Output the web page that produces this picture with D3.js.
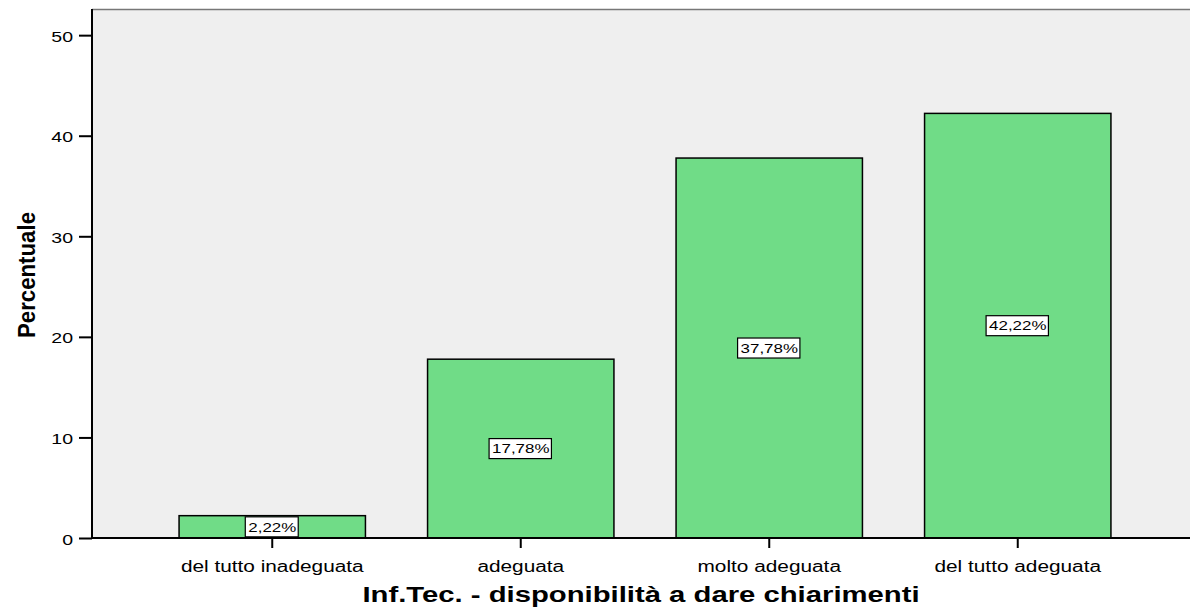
<!DOCTYPE html>
<html lang="it">
<head>
<meta charset="UTF-8">
<title>Inf.Tec. - disponibilità a dare chiarimenti</title>
<script src="https://d3js.org/d3.v7.min.js"></script>
<style>
  body { margin: 0; background: #fff; }
  svg text { font-family: "Liberation Sans", Arial, sans-serif; fill: #000; }
</style>
</head>
<body>
<div id="chart"></div>
<script>
// Data
const categories = ["del tutto inadeguata", "adeguata", "molto adeguata", "del tutto adeguata"];
const percentages = [2.22, 17.78, 37.78, 42.22];
const valueLabels = ["2,22%", "17,78%", "37,78%", "42,22%"];
const yTicks = [0, 10, 20, 30, 40, 50];

const width = 1190, height = 609;
const plot = { left: 92, top: 9, right: 1190, bottom: 538 };
// the original image is stretched horizontally, so the text is too
const stretchX = 1.3;

const svg = d3.select("#chart").append("svg")
  .attr("width", width)
  .attr("height", height);

// widen a text selection horizontally, keeping its anchor
function stretch(sel, k = stretchX) {
  sel.each(function () {
    const w = this.getComputedTextLength();
    d3.select(this)
      .attr("textLength", w * k)
      .attr("lengthAdjust", "spacingAndGlyphs");
  });
}

// Scales
const x = d3.scaleBand()
  .domain(categories)
  .range([148, 1142])
  .paddingInner(0.25)
  .paddingOuter(0.125);

const y = d3.scaleLinear()
  .domain([0, 52.6])
  .range([plot.bottom, plot.top]);

// Plot background
svg.append("rect")
  .attr("x", plot.left)
  .attr("y", plot.top)
  .attr("width", plot.right - plot.left)
  .attr("height", plot.bottom - plot.top)
  .attr("fill", "#efefef");

svg.append("line")
  .attr("x1", plot.left).attr("x2", plot.right)
  .attr("y1", plot.top + 0.5).attr("y2", plot.top + 0.5)
  .attr("stroke", "#777").attr("stroke-width", 1.5);

// Bars
svg.selectAll(".bar")
  .data(categories)
  .join("rect")
  .attr("class", "bar")
  .attr("x", d => x(d))
  .attr("y", (d, i) => y(percentages[i]))
  .attr("width", x.bandwidth())
  .attr("height", (d, i) => y(0) - y(percentages[i]))
  .attr("fill", "#70dc87")
  .attr("stroke", "#000")
  .attr("stroke-width", 1.5);

// Value labels (boxed)
const lbl = svg.selectAll(".vlabel")
  .data(categories)
  .join("g")
  .attr("class", "vlabel")
  .attr("transform", (d, i) => `translate(${x(d) + x.bandwidth() / 2},${y(percentages[i] / 2)})`);

lbl.append("text")
  .attr("text-anchor", "middle")
  .attr("dy", "0.36em")
  .style("font-size", "13px")
  .text((d, i) => valueLabels[i])
  .call(stretch);

lbl.each(function () {
  const g = d3.select(this);
  const w = +g.select("text").attr("textLength");
  g.insert("rect", "text")
    .attr("x", -w / 2 - 3)
    .attr("y", -10)
    .attr("width", w + 5)
    .attr("height", 20)
    .attr("fill", "#fff")
    .attr("stroke", "#000")
    .attr("stroke-width", 1.2);
});

// Y axis
const yAxis = svg.append("g")
  .attr("transform", `translate(${plot.left},0)`)
  .call(d3.axisLeft(y).tickValues(yTicks).tickSize(13).tickPadding(6).tickFormat(d3.format("d")));
yAxis.select(".domain").remove();
yAxis.selectAll(".tick line").attr("stroke", "#000").attr("stroke-width", 2);
yAxis.selectAll(".tick text").style("font-size", "15px").attr("dy", "0.4em").call(stretch);

svg.append("line")
  .attr("x1", plot.left).attr("x2", plot.left)
  .attr("y1", plot.top).attr("y2", plot.bottom + 1)
  .attr("stroke", "#000").attr("stroke-width", 2);

// X axis
const xAxis = svg.append("g")
  .attr("transform", `translate(0,${plot.bottom})`)
  .call(d3.axisBottom(x).tickSize(10).tickPadding(8));
xAxis.select(".domain").remove();
xAxis.selectAll(".tick line").attr("stroke", "#000").attr("stroke-width", 2);
xAxis.selectAll(".tick text").style("font-size", "16px").attr("dy", "1em").call(stretch);

svg.append("line")
  .attr("x1", plot.left - 1).attr("x2", plot.right)
  .attr("y1", plot.bottom).attr("y2", plot.bottom)
  .attr("stroke", "#000").attr("stroke-width", 2);

// Axis titles
svg.append("text")
  .attr("x", 641)
  .attr("y", 602)
  .attr("text-anchor", "middle")
  .style("font-size", "22px")
  .style("font-weight", "bold")
  .text("Inf.Tec. - disponibilità a dare chiarimenti")
  .call(stretch, 1.33);

svg.append("text")
  .attr("transform", `translate(35,275) scale(${stretchX},1) rotate(-90)`)
  .attr("text-anchor", "middle")
  .style("font-size", "19px")
  .style("font-weight", "bold")
  .attr("textLength", 126)
  .attr("lengthAdjust", "spacingAndGlyphs")
  .text("Percentuale");
</script>
</body>
</html>
